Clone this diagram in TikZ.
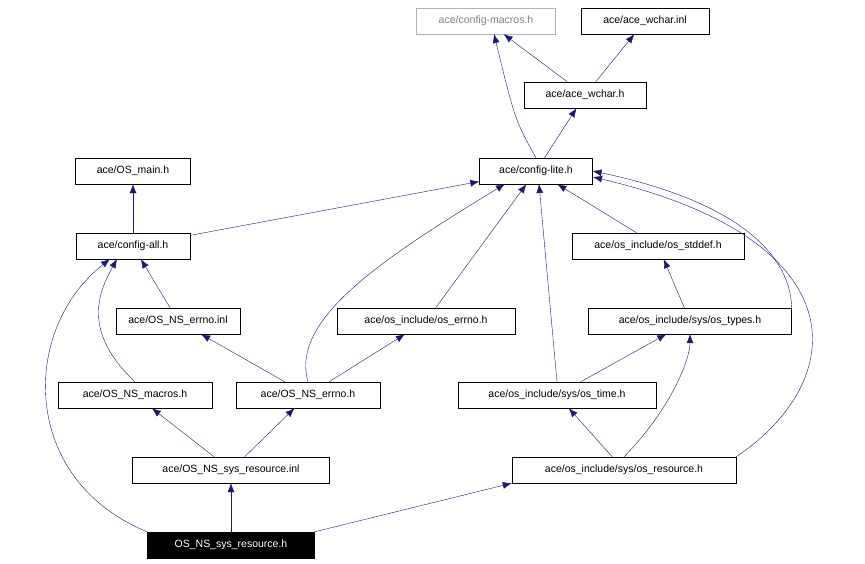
\documentclass[tikz,border=0pt]{standalone}
\usepackage{fontspec}
\setmainfont{Liberation Sans}
\usetikzlibrary{positioning,arrows.meta}
\definecolor{edgecol}{HTML}{191970}
\tikzset{>={Latex[length=9pt,width=7pt]},
  file/.style={draw,fill=white,inner sep=0pt,minimum height=26pt,font=\fontsize{10.5}{12}\selectfont},
  dep/.style={->,color=edgecol,thin}}

\begin{document}
\begin{tikzpicture}[x=1pt,y=-1pt]
        \useasboundingbox (0,0) rectangle (865,563);
        % files
        \node[file,draw=gray!60,text=gray,minimum width=139pt] (cmacros) at (486,21) {ace/config-macros.h};
        \node[file,minimum width=128pt] (winl) at (645,21) {ace/ace\_wchar.inl};
        \node[file,minimum width=122pt] (wch) at (585,95) {ace/ace\_wchar.h};
        \node[file,minimum width=113pt] (lite) at (536,171) {ace/config-lite.h};
        \node[file,minimum width=115pt] (osmain) at (133,171) {ace/OS\_main.h};
        \node[file,minimum width=114pt] (all) at (133,246) {ace/config-all.h};
        \node[file,minimum width=172pt] (stddef) at (658,246) {ace/os\_include/os\_stddef.h};
        \node[file,minimum width=124pt] (errinl) at (178,321) {ace/OS\_NS\_errno.inl};
        \node[file,minimum width=178pt] (oserr) at (426,321) {ace/os\_include/os\_errno.h};
        \node[file,minimum width=203pt] (types) at (690,321) {ace/os\_include/sys/os\_types.h};
        \node[file,minimum width=154pt] (macros) at (135,395) {ace/OS\_NS\_macros.h};
        \node[file,minimum width=144pt] (errh) at (308,395) {ace/OS\_NS\_errno.h};
        \node[file,minimum width=198pt] (time) at (557,395) {ace/os\_include/sys/os\_time.h};
        \node[file,minimum width=197pt] (resinl) at (231,470) {ace/OS\_NS\_sys\_resource.inl};
        \node[file,minimum width=224pt] (osres) at (624,470) {ace/os\_include/sys/os\_resource.h};
        \node[file,fill=black,text=white,minimum width=167pt] (main) at (231,545) {OS\_NS\_sys\_resource.h};
        % includes
        \draw[dep] (wch) -- (cmacros);
        \draw[dep] (wch) -- (winl);
        \draw[dep] (lite.north) .. controls (515,120) .. (494,34);
        \draw[dep] (lite) -- (wch);
        \draw[dep] (all) -- (lite);
        \draw[dep] (all) -- (osmain);
        \draw[dep] (stddef) -- (lite);
        \draw[dep] (errinl) -- (all);
        \draw[dep] (oserr) -- (lite);
        \draw[dep] (types.north east) .. controls (790,250) and (730,200) .. (lite.east);
        \draw[dep] (types) -- (stddef);
        \draw[dep] (macros.north) .. controls (80,330) and (100,290) .. (117,259);
        \draw[dep] (errh.north) .. controls (290,320) and (380,260) .. (505,184);
        \draw[dep] (errh) -- (errinl);
        \draw[dep] (errh) -- (oserr);
        \draw[dep] (time.north) -- (539,184);
        \draw[dep] (time) -- (types);
        \draw[dep] (resinl) -- (macros);
        \draw[dep] (resinl) -- (errh);
        \draw[dep] (osres) -- (time);
        \draw[dep] (osres.north) .. controls (670,410) and (690,360) .. (690,334);
        \draw[dep] (osres.north east) .. controls (850,380) and (860,240) .. (593,177);
        \draw[dep] (main.north west) .. controls (20,480) and (20,330) .. (110,259);
        \draw[dep] (main) -- (resinl);
        \draw[dep] (main.north east) -- (osres.south west);
      \end{tikzpicture}
\end{document}
